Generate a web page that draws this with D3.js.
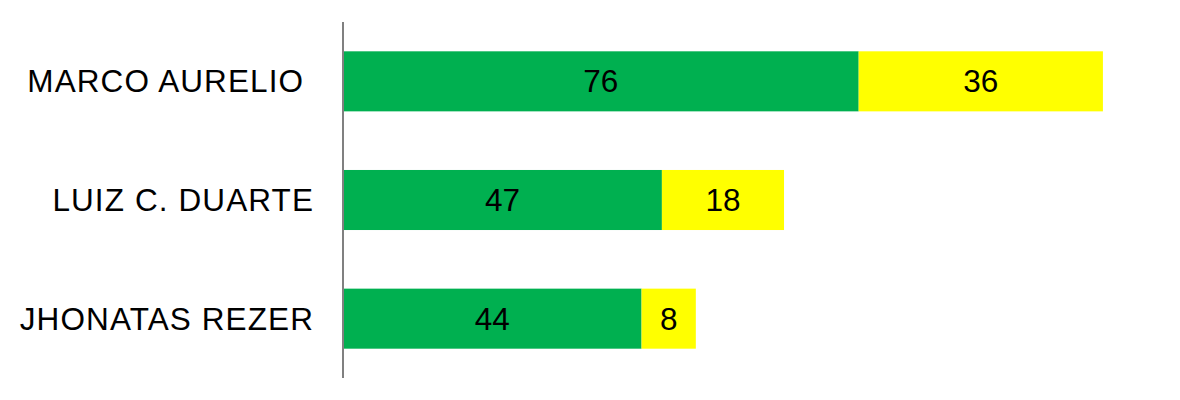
<!DOCTYPE html>
<html><head><meta charset="utf-8">
<script src="https://cdn.jsdelivr.net/npm/d3@7"></script>
<style>html,body{margin:0;padding:0;background:#fff}</style>
</head><body>
<svg id="c" width="1180" height="400"></svg>
<script>
const categories = ["MARCO AURELIO ", "LUIZ C. DUARTE", "JHONATAS REZER"];
const seriesGreen = [76, 47, 44];
const seriesYellow = [36, 18, 8];
const seriesNames = ["Green", "Yellow"];
const colors = ["#00B050", "#FFFF00"];

const svg = d3.select("#c");
const x = d3.scaleLinear().domain([0, 120]).range([343, 343 + 120 * 6.785]);
const y = d3.scaleBand().domain(categories).range([22, 378]).paddingInner(0.494).paddingOuter(0.247);

const rows = categories.map((c, i) => ({cat: c, vals: [seriesGreen[i], seriesYellow[i]]}));
const stackData = rows.map(r => { const o = {cat: r.cat}; seriesNames.forEach((s, k) => o[s] = r.vals[k]); return o; });
const stacked = d3.stack().keys(seriesNames)(stackData);

stacked.forEach((layer, k) => {
  const g = svg.append("g");
  g.selectAll("rect").data(layer).join("rect")
    .attr("x", d => x(d[0]))
    .attr("y", d => y(d.data.cat))
    .attr("width", d => x(d[1]) - x(d[0]))
    .attr("height", y.bandwidth())
    .attr("fill", colors[k]);
  g.selectAll("text").data(layer).join("text")
    .attr("x", d => (x(d[0]) + x(d[1])) / 2)
    .attr("y", d => y(d.data.cat) + y.bandwidth() / 2)
    .attr("text-anchor", "middle")
    .attr("dominant-baseline", "central")
    .attr("font-family", "Liberation Sans, Arial, sans-serif")
    .attr("font-size", 31.5)
    .attr("fill", "#000")
    .text(d => d[1] - d[0]);
});

const yAxis = d3.axisLeft(y).tickSize(0).tickPadding(29);
const ag = svg.append("g").attr("transform", "translate(343,0)").call(yAxis);
ag.select(".domain").remove();
ag.selectAll("text")
  .attr("font-family", "Liberation Sans, Arial, sans-serif")
  .attr("font-size", 31.5)
  .attr("letter-spacing", 1.1)
  .attr("fill", "#000")
  .attr("dy", null)
  .attr("dominant-baseline", "central")
  .style("white-space", "pre");

svg.append("line")
  .attr("x1", 343).attr("x2", 343)
  .attr("y1", y.range()[0]).attr("y2", y.range()[1])
  .attr("stroke", "#808080").attr("stroke-width", 2);
</script>
</body></html>
